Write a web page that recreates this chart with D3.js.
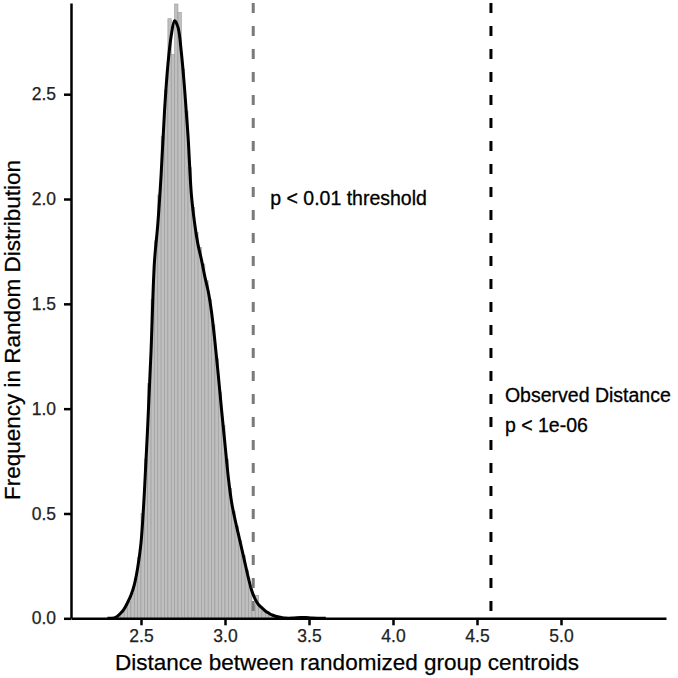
<!DOCTYPE html>
<html>
<head>
<meta charset="utf-8">
<script src="https://cdn.jsdelivr.net/npm/d3@7"></script>
<style>
  html, body { margin: 0; padding: 0; background: #fff; }
  svg { display: block; font-family: "Liberation Sans", Arial, Helvetica, sans-serif; }
</style>
</head>
<body>
<svg id="chart" width="678" height="678"></svg>
<script>
// ---- data ----
const binWidth = 0.02;
const binStarts = [2.34,2.36,2.38,2.40,2.42,2.44,2.46,2.48,2.50,2.52,2.54,2.56,2.58,2.60,2.62,2.64,2.66,2.68,2.70,2.72,2.74,2.76,2.78,2.80,2.82,2.84,2.86,2.88,2.90,2.92,2.94,2.96,2.98,3.00,3.02,3.04,3.06,3.08,3.10,3.12,3.14,3.16,3.18,3.20,3.22,3.24,3.26,3.28,3.30,3.32,3.34,3.36,3.38,3.40,3.42,3.44,3.46];
const binDensity = [0.004,0.012,0.03,0.05,0.08,0.12,0.19,0.29,0.50,0.76,1.12,1.52,1.80,2.02,2.30,2.52,2.86,2.69,2.93,2.89,2.62,2.42,2.15,1.96,1.84,1.77,1.69,1.61,1.52,1.40,1.24,1.08,0.92,0.76,0.62,0.51,0.44,0.37,0.30,0.23,0.15,0.06,0.11,0.05,0.035,0.022,0.014,0.009,0.005,0.003,0.002,0.001,0.001,0.001,0.002,0.004,0.003];

const kdeX = [2.30,2.34,2.36,2.38,2.40,2.42,2.44,2.46,2.48,2.50,2.52,2.54,2.56,2.58,2.60,2.62,2.64,2.66,2.68,2.70,2.72,2.74,2.76,2.78,2.80,2.82,2.84,2.86,2.88,2.90,2.92,2.94,2.96,2.98,3.00,3.02,3.04,3.06,3.08,3.10,3.12,3.14,3.16,3.18,3.20,3.22,3.24,3.26,3.28,3.30,3.32,3.34,3.36,3.40,3.45,3.48,3.52,3.60];
const kdeY = [0,0.002,0.01,0.025,0.045,0.075,0.11,0.16,0.24,0.36,0.60,0.92,1.28,1.70,1.88,2.12,2.42,2.64,2.78,2.85,2.82,2.70,2.52,2.30,2.02,1.88,1.78,1.71,1.63,1.56,1.46,1.32,1.16,0.99,0.83,0.67,0.55,0.47,0.40,0.33,0.26,0.19,0.13,0.09,0.065,0.05,0.035,0.025,0.016,0.01,0.006,0.003,0.001,0.001,0.004,0.004,0.001,0];

const thresholdValue = 3.168;
const observedValue = 4.583;
const thresholdLabel = ["p < 0.01 threshold"];
const observedLabel = ["Observed Distance", "p < 1e-06"];

const xTicks = [2.5, 3.0, 3.5, 4.0, 4.5, 5.0];
const yTicks = [0.0, 0.5, 1.0, 1.5, 2.0, 2.5];
const xTitle = "Distance between randomized group centroids";
const yTitle = "Frequency in Random Distribution";

// ---- scales ----
const svg = d3.select("#chart");
const x = d3.scaleLinear().domain([2.0833, 5.625]).range([71, 666]);
const y = d3.scaleLinear().domain([0, 2.935]).range([618.3, 3]);

// histogram bars
svg.append("g").selectAll("rect")
  .data(binStarts.map((s, i) => ({ s, v: binDensity[i] })))
  .join("rect")
  .attr("x", d => x(d.s))
  .attr("width", d => x(d.s + binWidth) - x(d.s))
  .attr("y", d => y(d.v))
  .attr("height", d => y(0) - y(d.v))
  .attr("fill", "#bfbfbf")
  .attr("stroke", "#999")
  .attr("stroke-width", 0.6);

// density curve
const line = d3.line().x(d => x(d[0])).y(d => y(d[1])).curve(d3.curveCatmullRom.alpha(0.5));
svg.append("path")
  .datum(kdeX.map((v, i) => [v, kdeY[i]]))
  .attr("d", line)
  .attr("fill", "none")
  .attr("stroke", "#000")
  .attr("stroke-width", 3)
  .attr("stroke-linejoin", "round");

// reference lines
svg.append("line")
  .attr("x1", x(thresholdValue)).attr("x2", x(thresholdValue))
  .attr("y1", y.range()[1]).attr("y2", y(0))
  .attr("stroke", "#7a7a7a").attr("stroke-width", 3)
  .attr("stroke-dasharray", "10,13");
svg.append("line")
  .attr("x1", x(observedValue)).attr("x2", x(observedValue))
  .attr("y1", y.range()[1]).attr("y2", y(0))
  .attr("stroke", "#000").attr("stroke-width", 3)
  .attr("stroke-dasharray", "10,13");

// axes
const xAxis = svg.append("g")
  .attr("transform", `translate(0,${y(0)})`)
  .call(d3.axisBottom(x).tickValues(xTicks).tickFormat(d3.format(".1f")).tickSize(7).tickPadding(4).tickSizeOuter(0));
const yAxis = svg.append("g")
  .attr("transform", `translate(${x.range()[0]},0)`)
  .call(d3.axisLeft(y).tickValues(yTicks).tickFormat(d3.format(".1f")).tickSize(7).tickPadding(8).tickSizeOuter(0));
[xAxis, yAxis].forEach(g => {
  g.select(".domain").attr("stroke", "#000").attr("stroke-width", 2.5);
  g.selectAll(".tick line").attr("stroke", "#000").attr("stroke-width", 2.5);
  g.selectAll(".tick text").attr("fill", "#222").attr("font-size", 17.5)
    .attr("stroke", "#222").attr("stroke-width", 0.25)
    .attr("font-family", "'Liberation Sans', Arial, sans-serif");
});

// axis titles
svg.append("text")
  .attr("x", 347).attr("y", 670)
  .attr("text-anchor", "middle")
  .attr("font-size", 22.5)
  .attr("fill", "#000").attr("stroke", "#000").attr("stroke-width", 0.25)
  .text(xTitle);
svg.append("text")
  .attr("transform", `translate(20,330) rotate(-90)`)
  .attr("text-anchor", "middle")
  .attr("font-size", 22.5)
  .attr("fill", "#000").attr("stroke", "#000").attr("stroke-width", 0.25)
  .text(yTitle);

// annotations
svg.append("text")
  .attr("x", x(thresholdValue) + 17).attr("y", 205)
  .attr("font-size", 19.5).attr("fill", "#000").attr("stroke", "#000").attr("stroke-width", 0.3)
  .text(thresholdLabel[0]);
svg.append("g").selectAll("text")
  .data(observedLabel)
  .join("text")
  .attr("x", x(observedValue) + 14)
  .attr("y", (d, i) => 402 + i * 30)
  .attr("font-size", 19.5).attr("fill", "#000").attr("stroke", "#000").attr("stroke-width", 0.3)
  .text(d => d);
</script>
</body>
</html>
